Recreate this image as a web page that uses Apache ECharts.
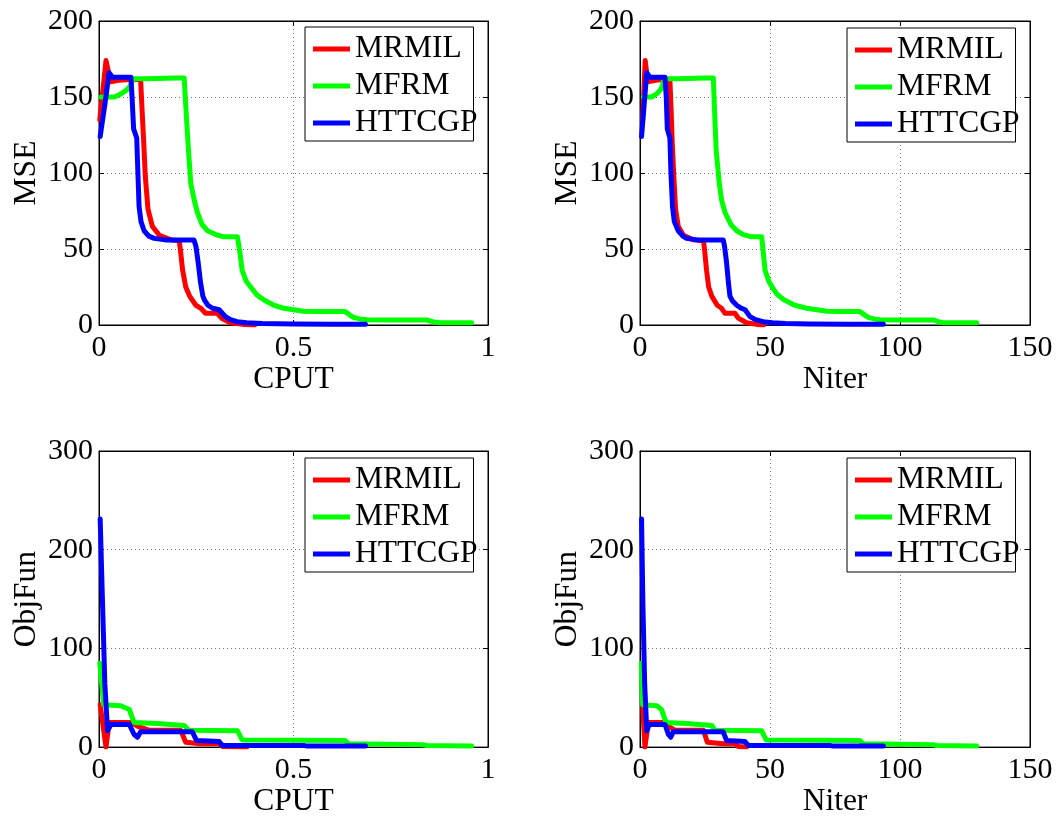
<!DOCTYPE html>
<html>
<head>
<meta charset="utf-8">
<script src="https://cdn.jsdelivr.net/npm/echarts@6/dist/echarts.min.js"></script>
<style>
html,body{margin:0;padding:0;background:#fff;}
#chart{width:1056px;height:819px;}
</style>
</head>
<body>
<div id="chart"></div>
<script>
// ---------- DATA ----------
var seriesNames = ['MRMIL', 'MFRM', 'HTTCGP'];
var cputTicks = [0, 0.5, 1];
var niterTicks = [0, 50, 100, 150];
var mseTicks = [0, 50, 100, 150, 200];
var objTicks = [0, 100, 200, 300];

// MSE (shared by CPUT and Niter plots)
var mseRed   = [135, 174, 160, 161, 161.5, 161.5, 140, 120, 98, 76, 65, 59, 56, 55.5, 50, 36, 25, 19, 13, 11, 7.7, 7.7, 4.5, 1.5, 0.4, 0];
var mseRedCput  = [0.002, 0.018, 0.03, 0.05, 0.08, 0.107, 0.111, 0.115, 0.119, 0.126, 0.137, 0.155, 0.185, 0.206, 0.209, 0.215, 0.223, 0.233, 0.249, 0.262, 0.274, 0.304, 0.315, 0.338, 0.37, 0.40];
var mseRedIter  = [1, 2, 3, 6, 9, 11.5, 12, 12.4, 13, 13.7, 14.7, 16.7, 20.5, 24.4, 24.8, 25.6, 26.4, 27.6, 29.7, 31.4, 32.7, 36.5, 37.8, 41, 44.9, 47.5];

var mseGreen = [150, 150, 152, 155, 158, 162, 162, 162.5, 162.5, 140, 115, 93, 82, 74, 66, 62, 59.5, 58, 58, 48, 36, 29, 25, 20, 16.5, 13, 11, 10, 9, 8.8, 8.8, 6.5, 5, 4, 3.5, 3.3, 3.3, 2, 1.5, 1.5];
var mseGreenCput = [0.005, 0.04, 0.056, 0.073, 0.082, 0.088, 0.12, 0.20, 0.219, 0.224, 0.230, 0.236, 0.245, 0.253, 0.265, 0.279, 0.30, 0.321, 0.356, 0.362, 0.368, 0.378, 0.39, 0.405, 0.424, 0.45, 0.475, 0.50, 0.526, 0.57, 0.633, 0.645, 0.654, 0.67, 0.689, 0.75, 0.842, 0.86, 0.877, 0.958];
var mseGreenIter = [1.3, 4.5, 6.4, 8, 8.7, 9.2, 15, 25, 28.2, 28.7, 29.3, 30.5, 31.4, 32.7, 35, 37.2, 39.7, 43, 46.8, 47.4, 48.1, 49.5, 50.8, 52.8, 55.5, 59.5, 64.1, 68, 72, 78, 84.6, 86.5, 87.8, 90, 92.3, 100, 112.8, 115, 116.7, 129.5];

var mseBlue  = [124, 145, 166, 163, 163, 163, 150, 129, 123, 100, 78, 68, 62, 58.5, 57, 56, 56, 52, 41, 28, 19, 16, 13, 11, 10, 5.5, 3.5, 2.2, 1.5, 1, 0.7, 0.5, 0.5];
var mseBlueCput = [0.003, 0.015, 0.026, 0.035, 0.06, 0.082, 0.085, 0.089, 0.097, 0.100, 0.103, 0.108, 0.116, 0.128, 0.142, 0.170, 0.244, 0.249, 0.255, 0.261, 0.267, 0.272, 0.280, 0.292, 0.309, 0.325, 0.338, 0.355, 0.38, 0.42, 0.50, 0.60, 0.685];
var mseBlueIter = [0.6, 1.6, 2.6, 3.8, 6.5, 9.6, 10.1, 10.5, 11.5, 11.9, 12.5, 13.2, 14.7, 16.5, 17.9, 22, 32, 32.5, 33.3, 34, 34.6, 35.5, 37.2, 39, 40.4, 42.3, 44.5, 47.4, 51, 56, 65, 80, 93.6];

// ObjFun (shared by CPUT and Niter plots)
var objRed   = [43, 0, 25, 25, 21, 17, 17, 5, 3.3, 3.3, 0.7, 0];
var objRedCput  = [0.003, 0.018, 0.026, 0.082, 0.1, 0.13, 0.21, 0.223, 0.26, 0.309, 0.317, 0.38];
var objRedIter  = [1, 1.9, 3.2, 9.6, 11, 13.5, 24.4, 25.9, 32, 36.5, 37.8, 41];

var objGreen = [85, 43, 42, 38, 25, 24, 22, 17, 16.5, 7.3, 6.6, 3.3, 2.3, 1.7, 1];
var objGreenCput = [0.002, 0.012, 0.056, 0.078, 0.09, 0.15, 0.219, 0.231, 0.356, 0.368, 0.633, 0.642, 0.834, 0.842, 0.958];
var objGreenIter = [0.5, 1, 6.4, 8.3, 10, 17.9, 27.6, 28.8, 46.8, 48.5, 84.6, 85.9, 112.8, 114, 129.5];

var objBlue  = [231, 147, 64, 16.5, 23, 23, 13, 10, 15.5, 15.5, 6.6, 5.6, 1.7, 1.7, 1, 1];
var objBlueCput = [0.003, 0.009, 0.015, 0.022, 0.031, 0.078, 0.09, 0.099, 0.107, 0.24, 0.251, 0.309, 0.317, 0.526, 0.535, 0.685];
var objBlueIter = [0.6, 1.1, 1.8, 2.6, 3.6, 9.6, 10.9, 11.8, 12.8, 32, 33.3, 40.4, 41.7, 73, 74.4, 93.6];

// ---------- CHART ----------
var FONT = 'Liberation Serif';
var colors = ['#ff0000', '#00ff00', '#0000ff'];

function pairs(xs, ys) { return xs.map(function (x, i) { return [x, ys[i]]; }); }

var grids = [
  {left: 99,  top: 21,  width: 389, height: 304},
  {left: 640, top: 21,  width: 390, height: 304},
  {left: 99,  top: 451, width: 389, height: 304},
  {left: 640, top: 451, width: 390, height: 304}
];
var panels = [
  {xTicks: cputTicks,  yTicks: mseTicks, xName: 'CPUT',  yName: 'MSE',
   data: [[mseRedCput, mseRed], [mseGreenCput, mseGreen], [mseBlueCput, mseBlue]]},
  {xTicks: niterTicks, yTicks: mseTicks, xName: 'Niter', yName: 'MSE',
   data: [[mseRedIter, mseRed], [mseGreenIter, mseGreen], [mseBlueIter, mseBlue]]},
  {xTicks: cputTicks,  yTicks: objTicks, xName: 'CPUT',  yName: 'ObjFun',
   data: [[objRedCput, objRed], [objGreenCput, objGreen], [objBlueCput, objBlue]]},
  {xTicks: niterTicks, yTicks: objTicks, xName: 'Niter', yName: 'ObjFun',
   data: [[objRedIter, objRed], [objGreenIter, objGreen], [objBlueIter, objBlue]]}
];
var legendPos = [[305, 27], [847, 28], [305, 458], [847, 458]];

var option = {
  animation: false,
  backgroundColor: '#fff',
  textStyle: {fontFamily: FONT},
  grid: grids.map(function (g) {
    return Object.assign({show: true, borderColor: '#000', borderWidth: 1, backgroundColor: '#fff', containLabel: false}, g);
  }),
  xAxis: [], yAxis: [], series: [], legend: []
};

var tickStyle = {show: true, inside: true, length: 5, lineStyle: {color: '#000', width: 1}};
var gridLine = {show: true, lineStyle: {color: '#777', type: [1, 3], width: 1}};

panels.forEach(function (p, gi) {
  var xmin = p.xTicks[0], xmax = p.xTicks[p.xTicks.length - 1], xint = p.xTicks[1] - p.xTicks[0];
  var ymin = p.yTicks[0], ymax = p.yTicks[p.yTicks.length - 1], yint = p.yTicks[1] - p.yTicks[0];
  var xIdx = option.xAxis.length, yIdx = option.yAxis.length;
  option.xAxis.push({
    type: 'value', gridIndex: gi, position: 'bottom', min: xmin, max: xmax, interval: xint,
    axisLine: {show: true, onZero: false, lineStyle: {color: '#000', width: 1}},
    axisTick: tickStyle,
    axisLabel: {show: true, margin: 8, fontSize: 30, fontFamily: FONT, color: '#000'},
    splitLine: gridLine,
    name: p.xName, nameLocation: 'middle', nameGap: 33,
    nameTextStyle: {fontSize: 31.5, fontFamily: FONT, color: '#000'}
  });
  option.xAxis.push({
    type: 'value', gridIndex: gi, position: 'top', min: xmin, max: xmax, interval: xint,
    axisLine: {show: true, onZero: false, lineStyle: {color: '#000', width: 1}},
    axisTick: tickStyle, axisLabel: {show: false}, splitLine: {show: false}
  });
  option.yAxis.push({
    type: 'value', gridIndex: gi, position: 'left', min: ymin, max: ymax, interval: yint,
    axisLine: {show: true, onZero: false, lineStyle: {color: '#000', width: 1}},
    axisTick: tickStyle,
    axisLabel: {show: true, margin: 6, fontSize: 30, fontFamily: FONT, color: '#000'},
    splitLine: gridLine,
    name: p.yName, nameLocation: 'middle', nameGap: 56, nameRotate: 90,
    nameTextStyle: {fontSize: 31.5, fontFamily: FONT, color: '#000'}
  });
  option.yAxis.push({
    type: 'value', gridIndex: gi, position: 'right', min: ymin, max: ymax, interval: yint,
    axisLine: {show: true, onZero: false, lineStyle: {color: '#000', width: 1}},
    axisTick: tickStyle, axisLabel: {show: false}, splitLine: {show: false}
  });
  p.data.forEach(function (d, si) {
    option.series.push({
      type: 'line', name: seriesNames[si], xAxisIndex: xIdx, yAxisIndex: yIdx,
      data: pairs(d[0], d[1]), symbol: 'none', showSymbol: false,
      lineStyle: {color: colors[si], width: 5, join: 'round', cap: 'round'},
      itemStyle: {color: colors[si]},
      z: 2 + si
    });
  });
  option.legend.push({
    data: seriesNames, orient: 'vertical', left: legendPos[gi][0], top: legendPos[gi][1],
    backgroundColor: '#fff', borderColor: '#000', borderWidth: 1,
    padding: [6, -4, 2, 8], itemGap: 5, itemWidth: 37, itemHeight: 5, icon: 'rect',
    textStyle: {fontSize: 31.5, fontFamily: FONT, color: '#000', lineHeight: 32},
    selectedMode: false, z: 10
  });
});

var chart = echarts.init(document.getElementById('chart'), null, {renderer: 'canvas'});
chart.setOption(option);
</script>
</body>
</html>
